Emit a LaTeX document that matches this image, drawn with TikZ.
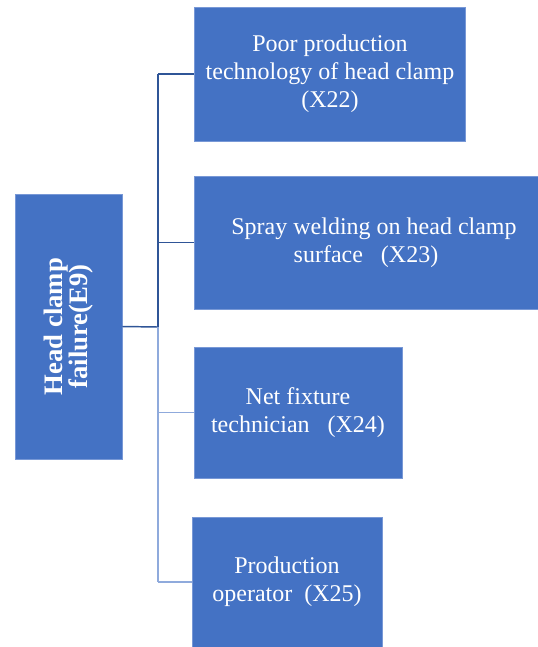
\documentclass[tikz,border=0pt]{standalone}
\usepackage{fontspec}
\setmainfont{Liberation Serif}
\usetikzlibrary{positioning}

\definecolor{boxblue}{RGB}{68,114,196}
\definecolor{boxedge}{RGB}{120,152,214}
\definecolor{linedark}{RGB}{47,85,151}
\definecolor{linelight}{RGB}{143,170,220}

\tikzset{
  causebox/.style={draw=boxedge, line width=0.5pt, fill=boxblue, text=white, align=center,
    inner sep=0pt, font=\fontsize{18}{21}\selectfont},
  topbox/.style={causebox, font=\bfseries\fontsize{20}{16}\selectfont, rotate=90},
  linkdark/.style={draw=linedark, line width=1.1pt},
  linklight/.style={draw=linelight, line width=1.3pt}
}

\begin{document}
\begin{tikzpicture}[x=0.75pt,y=0.75pt,yscale=-1,xscale=1]
  \useasboundingbox (0,0) rectangle (538,647);

  % event
  \node [topbox, minimum width=265*0.75pt, minimum height=107*0.75pt] (e9) at (68.5,326.5)
    {Head clamp\\failure(E9)};

  % causes
  \node [causebox, minimum width=271*0.75pt, minimum height=134*0.75pt] (x22) at (330,74)
    {Poor production\\technology of head clamp\\(X22)};
  \node [causebox, minimum width=344*0.75pt, minimum height=133*0.75pt] (x23) at (366,242.5)
    {\hspace*{12pt}Spray welding on head clamp\\surface\ \ \ (X23)};
  \node [causebox, minimum width=208*0.75pt, minimum height=131*0.75pt] (x24) at (298,412.5)
    {Net fixture\\technician\ \ \ (X24)};
  \node [causebox, minimum width=190*0.75pt, minimum height=130*0.75pt] (x25) at (287,582)
    {Production\\operator\ \ (X25)};

  % trunk
  \coordinate (trunk) at (158,327);
  \draw [linkdark] (e9.south) -- (trunk);
  \draw [linkdark] (trunk |- x22.west) -- (trunk);
  \draw [linklight] (trunk) -- (trunk |- x25.west);

  % branches
  \draw [linkdark] (trunk |- x22.west) -- (x22.west);
  \draw [linkdark] (trunk |- x23.west) -- (x23.west);
  \draw [linklight] (trunk |- x24.west) -- (x24.west);
  \draw [linklight] (trunk |- x25.west) -- (x25.west);
\end{tikzpicture}
\end{document}
